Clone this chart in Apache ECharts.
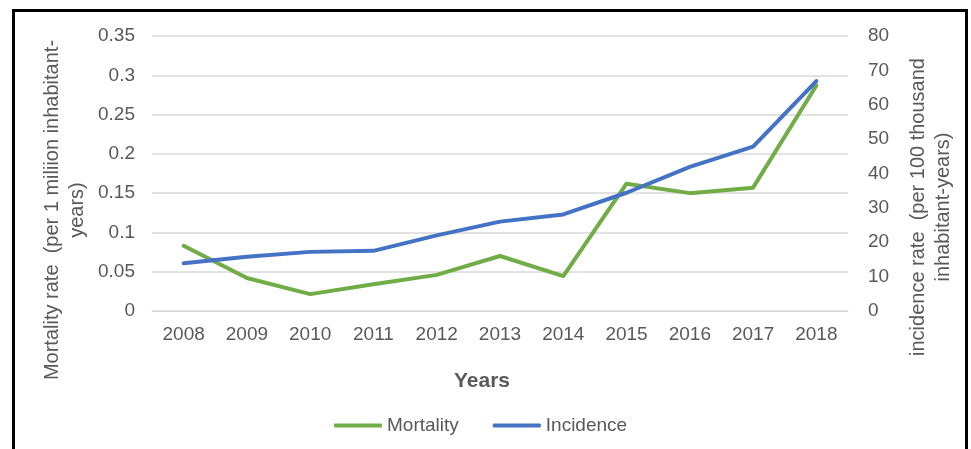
<!DOCTYPE html>
<html>
<head>
<meta charset="utf-8">
<script src="https://cdn.jsdelivr.net/npm/echarts@6/dist/echarts.min.js"></script>
<style>
html,body{margin:0;padding:0;background:#fff;}
#chart{width:971px;height:449px;}
</style>
</head>
<body>
<div id="chart"></div>
<script>
var years = ['2008','2009','2010','2011','2012','2013','2014','2015','2016','2017','2018'];
var mortality = [0.083, 0.042, 0.0215, 0.034, 0.046, 0.070, 0.0445, 0.162, 0.150, 0.157, 0.287];
var incidence = [13.9, 15.8, 17.2, 17.5, 22.0, 26.0, 28.1, 34.4, 41.9, 47.8, 66.9];
var seriesNames = ['Mortality', 'Incidence'];
var leftTitle = 'Mortality rate  (per 1 miliion inhabitant-\nyears)';
var rightTitle = 'incidence rate  (per 100 thousand\ninhabitant-years)';
var xTitle = 'Years';

var FONT = '"Liberation Sans", Arial, sans-serif';
var chart = echarts.init(document.getElementById('chart'));
chart.setOption({
  animation: false,
  backgroundColor: '#ffffff',
  color: ['#70AD47', '#4472C4'],
  grid: {left: 152, right: 123, top: 36, bottom: 138, containLabel: false},
  legend: {
    data: seriesNames,
    left: 329, top: 411,
    icon: 'roundRect',
    itemWidth: 48, itemHeight: 4, itemGap: 34,
    textStyle: {color: '#595959', fontSize: 19, fontFamily: FONT}
  },
  xAxis: {
    type: 'category',
    data: years,
    boundaryGap: true,
    axisLine: {show: true, lineStyle: {color: '#d9d9d9', width: 1}},
    axisTick: {show: false},
    axisLabel: {color: '#595959', fontSize: 19, fontFamily: FONT, margin: 14}
  },
  yAxis: [{
    type: 'value', min: 0, max: 0.35, interval: 0.05,
    axisLine: {show: false}, axisTick: {show: false},
    axisLabel: {color: '#595959', fontSize: 19, fontFamily: FONT, margin: 17},
    splitLine: {lineStyle: {color: '#d9d9d9', width: 1.5}}
  }, {
    type: 'value', min: 0, max: 80, interval: 10,
    axisLine: {show: false}, axisTick: {show: false},
    axisLabel: {color: '#595959', fontSize: 19, fontFamily: FONT, margin: 20},
    splitLine: {show: false}
  }],
  series: [{
    name: seriesNames[0], type: 'line', yAxisIndex: 0, data: mortality,
    symbol: 'none', lineStyle: {width: 4, cap: 'round', join: 'round'}
  }, {
    name: seriesNames[1], type: 'line', yAxisIndex: 1, data: incidence,
    symbol: 'none', lineStyle: {width: 4, cap: 'round', join: 'round'}
  }],
  graphic: [
    {type: 'rect', shape: {x: 13.5, y: 10.5, width: 953, height: 460},
     style: {fill: 'none', stroke: '#000', lineWidth: 3}, z: 100},
    {type: 'text', x: 64.5, y: 210, rotation: Math.PI/2,
     style: {text: leftTitle, fill: '#595959', font: '20px ' + FONT, textAlign: 'center', textVerticalAlign: 'middle', lineHeight: 25}},
    {type: 'text', x: 930.5, y: 207, rotation: Math.PI/2,
     style: {text: rightTitle, fill: '#595959', font: '20px ' + FONT, textAlign: 'center', textVerticalAlign: 'middle', lineHeight: 25}},
    {type: 'text', x: 482, y: 381,
     style: {text: xTitle, fill: '#595959', font: 'bold 21px ' + FONT, textAlign: 'center', textVerticalAlign: 'middle'}}
  ]
});
</script>
</body>
</html>
